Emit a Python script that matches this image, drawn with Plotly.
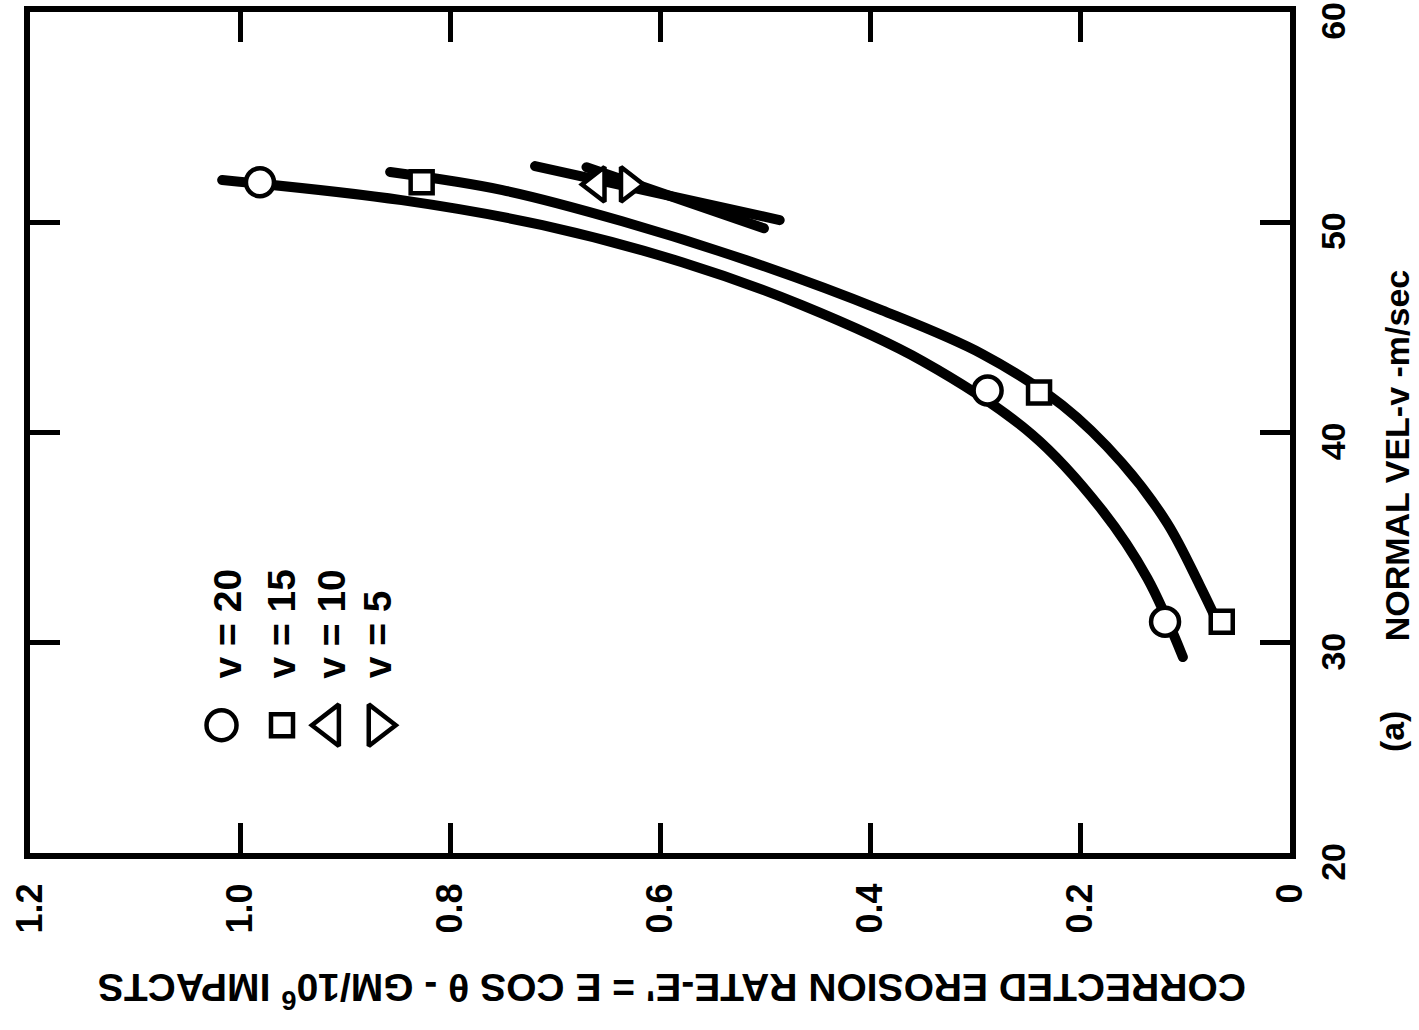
import plotly.graph_objects as go

# Test points: normal velocity (m/s) vs corrected erosion rate (gm / 10^6 impacts)
vel_v20 = [51.9, 42.0, 31.0]
rate_v20 = [0.981, 0.288, 0.119]
vel_v15 = [51.9, 41.9, 31.0]
rate_v15 = [0.827, 0.239, 0.065]
vel_v10 = [51.8]
rate_v10 = [0.660]
vel_v5 = [51.8]
rate_v5 = [0.630]

# Faired curves through the test points
fit20_vel = [52.01, 51.05, 49.86, 48.10, 46.06, 43.40, 39.92, 36.31, 33.08, 29.32]
fit20_rate = [1.017, 0.846, 0.712, 0.579, 0.465, 0.350, 0.246, 0.179, 0.136, 0.102]
fit15_vel = [52.39, 51.53, 50.05, 48.10, 45.82, 43.73, 41.30, 38.55, 35.69, 32.74, 31.08]
fit15_rate = [0.857, 0.750, 0.636, 0.512, 0.389, 0.293, 0.217, 0.160, 0.117, 0.086, 0.070]
fit10_vel = [52.67, 50.10]
fit10_rate = [0.719, 0.486]
fit5_vel = [52.62, 49.71]
fit5_rate = [0.670, 0.501]

# Axis ticks
vel_ticks = [20, 30, 40, 50, 60]
rate_ticks = [0, 0.2, 0.4, 0.6, 0.8, 1.0, 1.2]
rate_tick_text = ["0", "0.2", "0.4", "0.6", "0.8", "1.0", "1.2"]

legend_labels = ["v = 20", "v = 15", "v = 10", "v = 5"]

INK = "#000000"
FONT = "Liberation Sans"

fig = go.Figure()

# The figure is laid out turned a quarter turn: velocity runs up the right side,
# erosion rate runs right-to-left along the bottom.
for v, r in [(fit20_vel, fit20_rate), (fit15_vel, fit15_rate)]:
    fig.add_trace(go.Scatter(x=r, y=v, mode="lines",
                             line=dict(color=INK, width=10, shape="spline", smoothing=1.0),
                             hoverinfo="skip", showlegend=False))
for v, r in [(fit10_vel, fit10_rate), (fit5_vel, fit5_rate)]:
    fig.add_trace(go.Scatter(x=r, y=v, mode="lines",
                             line=dict(color=INK, width=10),
                             hoverinfo="skip", showlegend=False))

point_sets = [
    (vel_v20, rate_v20, "circle", 28),
    (vel_v15, rate_v15, "square", 22),
    (vel_v10, rate_v10, "triangle-left", 30),
    (vel_v5, rate_v5, "triangle-right", 30),
]
for v, r, sym, size in point_sets:
    fig.add_trace(go.Scatter(x=r, y=v, mode="markers",
                             marker=dict(symbol=sym, size=size, color="white",
                                         line=dict(color=INK, width=4.5)),
                             cliponaxis=False, showlegend=False))

# Key, drawn on a unit overlay so it sits at a fixed place in the frame
key_x = [0.152, 0.200, 0.238, 0.276]
key_y = 0.152
key_sizes = [30, 22, 36, 36]
for kx, sym, size in zip(key_x, ["circle", "square", "triangle-left", "triangle-right"], key_sizes):
    fig.add_trace(go.Scatter(x=[kx], y=[key_y], mode="markers", xaxis="x2", yaxis="y2",
                             marker=dict(symbol=sym, size=size, color="white",
                                         line=dict(color=INK, width=4.5)),
                             cliponaxis=False, showlegend=False))

text_x = [0.157, 0.200, 0.239, 0.276]
for tx, lab in zip(text_x, legend_labels):
    fig.add_annotation(x=tx, y=0.205, xref="paper", yref="paper", text=lab,
                       textangle=-90, showarrow=False, xanchor="center", yanchor="bottom",
                       font=dict(family=FONT, size=39, color=INK, weight="bold"))

axis_common = dict(showgrid=False, zeroline=False, showline=True, linecolor=INK, linewidth=6,
                   mirror="ticks", ticks="inside", ticklen=30, tickwidth=5, tickcolor=INK,
                   tickangle=-90, ticklabeloverflow="allow", automargin=False)

fig.update_layout(
    width=1419, height=1030,
    margin=dict(l=30, r=129, t=12, b=177, autoexpand=False),
    paper_bgcolor="white", plot_bgcolor="white",
    xaxis=dict(range=[1.2, 0], tickvals=rate_ticks, ticktext=rate_tick_text,
               ticklabelstandoff=10,
               tickfont=dict(family=FONT, size=36, color=INK, weight="bold"),
               **axis_common),
    yaxis=dict(range=[20, 60], tickvals=vel_ticks, side="right",
               ticklabelstandoff=8, ticklabelshift=14,
               tickfont=dict(family=FONT, size=34, color=INK, weight="bold"),
               **axis_common),
    xaxis2=dict(range=[0, 1], overlaying="x", visible=False),
    yaxis2=dict(range=[0, 1], overlaying="y", visible=False),
    showlegend=False,
)

# Axis titles
fig.add_annotation(x=0.5095, y=-0.164, xref="paper", yref="paper",
                   text="CORRECTED EROSION RATE-E' = E COS θ - GM/10<sup>6</sup> IMPACTS",
                   textangle=180, showarrow=False, xanchor="center", yanchor="middle",
                   font=dict(family=FONT, size=39, color=INK, weight="bold"))
fig.add_annotation(x=1.085, y=0.473, xref="paper", yref="paper",
                   text="NORMAL VEL-v -m/sec",
                   textangle=-90, showarrow=False, xanchor="center", yanchor="middle",
                   font=dict(family=FONT, size=34, color=INK, weight="bold"))
fig.add_annotation(x=1.081, y=0.145, xref="paper", yref="paper",
                   text="(a)",
                   textangle=-90, showarrow=False, xanchor="center", yanchor="middle",
                   font=dict(family=FONT, size=34, color=INK, weight="bold"))

round_caps = """
document.querySelectorAll('.scatterlayer .js-line').forEach(function(p){
  p.style.strokeLinecap = 'round';
});
"""
fig.write_html("out.html", post_script=round_caps)
